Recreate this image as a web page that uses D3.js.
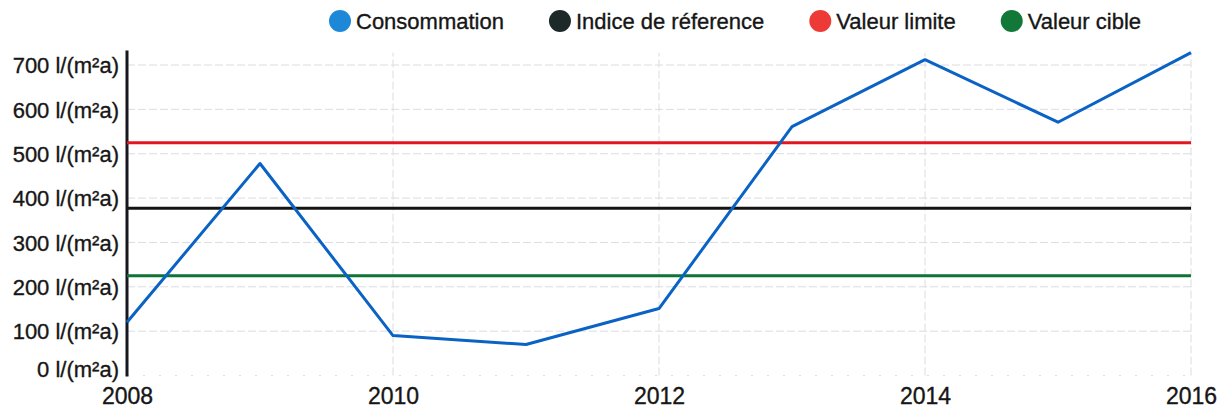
<!DOCTYPE html>
<html>
<head>
<meta charset="utf-8">
<script src="https://cdn.jsdelivr.net/npm/d3@7"></script>
<style>
  body { margin: 0; background: #fff; }
  svg text { font-family: "Liberation Sans", Arial, sans-serif; fill: #161616; stroke: #161616; stroke-width: 0.35px; }
</style>
</head>
<body>
<div class="line-chart"></div>
<script>
// Data

const years = [2008, 2009, 2010, 2011, 2012, 2013, 2014, 2015, 2016]
const consumption = [120, 478, 90, 70, 151, 561, 712, 571, 728]

const seriesNames = ['Consommation', 'Indice de réference', 'Valeur limite', 'Valeur cible']
const thresholdNames = ['Indice de réference', 'Valeur limite', 'Valeur cible']
const thresholdValues = [377, 525, 225]

const yTicks = [0, 100, 200, 300, 400, 500, 600, 700]
const xTicks = [2008, 2010, 2012, 2014, 2016]

// Styles

const lineColor = {
  'Consommation': '#0a63c4',
  'Indice de réference': '#141414',
  'Valeur limite': '#e3161f',
  'Valeur cible': '#0e7336'
}
const dotColor = {
  'Consommation': '#1d88d8',
  'Indice de réference': '#1d2828',
  'Valeur limite': '#ee3a36',
  'Valeur cible': '#127838'
}

// Line chart

const drawLineChart = () => {
  const width = 1227
  const height = 409

  const x = d3.scaleLinear()
    .domain([2008, 2016])
    .range([127, 1191])
  const y = d3.scaleLinear()
    .domain([0, 700])
    .range([375.5, 65])

  const top = y(d3.max(consumption))

  const svg = d3.select('.line-chart')
    .append('svg')
      .attr('width', width)
      .attr('height', height)

  // grid
  svg.append('g')
    .selectAll('line')
    .data(yTicks)
    .enter().append('line')
      .attr('x1', x(2008))
      .attr('x2', x(2016))
      .attr('y1', (d) => y(d))
      .attr('y2', (d) => y(d))
      .style('stroke', '#dcdce2')
      .style('stroke-width', 1)
      .style('stroke-dasharray', (d) => d === 0 ? '2,14' : '8,3')

  svg.append('g')
    .selectAll('line')
    .data(xTicks.slice(1))
    .enter().append('line')
      .attr('x1', (d) => x(d))
      .attr('x2', (d) => x(d))
      .attr('y1', y(0))
      .attr('y2', top)
      .style('stroke', '#dcdce2')
      .style('stroke-width', 1)
      .style('stroke-dasharray', '8,3')

  // y axis
  const yAxis = d3.axisLeft(y)
    .tickValues(yTicks)
    .tickSize(0)
    .tickPadding(8)
    .tickFormat((d) => `${d} l/(m²a)`)

  const yg = svg.append('g')
      .attr('transform', `translate(${x(2008)},0)`)
      .call(yAxis)
  yg.select('.domain').remove()
  yg.selectAll('text')
      .style('font-size', '22px')
      .attr('dy', (d) => d === 0 ? '0.05em' : '0.35em')

  svg.append('line')
      .attr('x1', x(2008))
      .attr('x2', x(2008))
      .attr('y1', top - 2)
      .attr('y2', y(0) + 1)
      .style('stroke', '#17171f')
      .style('stroke-width', 3)

  // x axis
  const xAxis = d3.axisBottom(x)
    .tickValues(xTicks)
    .tickSize(0)
    .tickPadding(9)
    .tickFormat(d3.format('d'))

  const xg = svg.append('g')
      .attr('transform', `translate(0,${y(0)})`)
      .call(xAxis)
  xg.select('.domain').remove()
  xg.selectAll('text')
      .style('font-size', '23px')
      .attr('dy', '0.85em')

  // lines
  const line = (values) => d3.line()
    .x((d, i) => x(years[i]))
    .y((d) => y(d))(values)

  svg.append('g')
    .selectAll('path')
    .data(thresholdNames)
    .enter().append('path')
      .attr('d', (d, i) => line(years.map(() => thresholdValues[i])))
      .style('fill', 'none')
      .style('stroke', (d) => lineColor[d])
      .style('stroke-width', 3)

  svg.append('path')
      .attr('d', line(consumption))
      .style('fill', 'none')
      .style('stroke', lineColor['Consommation'])
      .style('stroke-width', 3)
      .style('stroke-linejoin', 'round')

  // legend
  const legend = svg.append('g')
      .attr('transform', 'translate(329,0)')

  let offset = 0
  seriesNames.forEach((name) => {
    const item = legend.append('g')
        .attr('transform', `translate(${offset},0)`)
    item.append('circle')
        .attr('cx', 11)
        .attr('cy', 21)
        .attr('r', 11)
        .style('fill', dotColor[name])
    const label = item.append('text')
        .attr('x', 27)
        .attr('y', 29)
        .style('font-size', '22px')
        .text(name)
    offset += 27 + label.node().getComputedTextLength() + 45
  })
}

drawLineChart()
</script>
</body>
</html>
